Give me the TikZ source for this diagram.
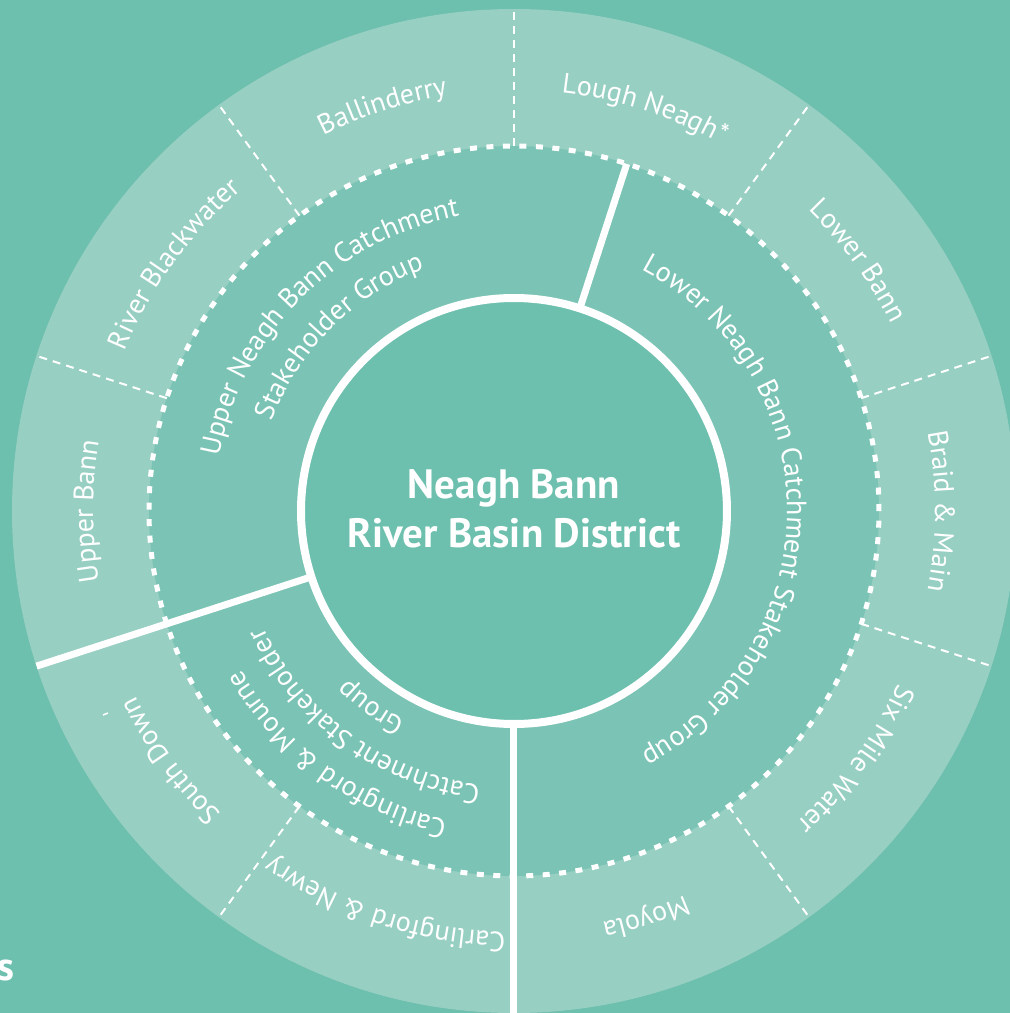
\documentclass[tikz,border=0pt]{standalone}
\usepackage{fontspec}
\setmainfont{PT Sans}
\usetikzlibrary{decorations.text}

\definecolor{field}{HTML}{6DBFAE}
\definecolor{outerband}{HTML}{97CFC2}
\definecolor{midband}{HTML}{7BC4B5}
\definecolor{hub}{HTML}{6DBFAE}

\tikzset{
  divider/.style={white, line width=2pt, dash pattern=on 8pt off 6pt},
  boundary/.style={white, line width=5pt, dash pattern=on 7pt off 9.5pt},
  spoke/.style={white, line width=7pt},
  hubring/.style={white, line width=8pt},
  title/.style={text=white, font=\bfseries\fontsize{41}{48}\selectfont, inner sep=0pt},
}

% text set clockwise along a circle: baseline radius, centre angle, half span, text
\newcommand\bandlabel[4]{%
  \path[decorate, decoration={text along path, text align=center, text color=white,
     text={|\fontsize{28}{33}\selectfont|#4}}]
     ({#2+#3}:#1pt) arc[start angle={#2+#3}, end angle={#2-#3}, radius=#1pt];
}

\begin{document}
\begin{tikzpicture}[x=1pt,y=1pt]
\useasboundingbox (-514,-502) rectangle (496,511);
\clip (-514,-502) rectangle (496,511);
\fill[field] (-514,-502) rectangle (496,511);

% bands
\fill[outerband] (0,0) circle[radius=502pt];
\fill[midband] (0,0) circle[radius=365pt];
\fill[hub] (0,0) circle[radius=213pt];

% thin dashed dividers in the outer band
\foreach \a in {18,54,90,126,162,234,306,342}
  \draw[divider] (\a:365) -- (\a:502);

% solid spokes between the catchment groups
\draw[spoke] (72:213) -- (72:365);
\draw[spoke] (198:213) -- (198:502);
\draw[spoke] (270:213) -- (270:506);

\draw[boundary] (0,0) circle[radius=365pt];
\draw[hubring] (0,0) circle[radius=213pt];

% centre title
\node[title, anchor=base] (t1) at (0,13) {Neagh Bann};
\node[title, anchor=base] (t2) at (0,-36) {River Basin District};

% outer band: local water bodies
\bandlabel{421}{0}{30}{Braid {\&} Main}
\bandlabel{421}{36}{30}{Lower Bann}
\bandlabel{421}{72}{30}{Lough Neagh*}
\bandlabel{421}{108}{30}{Ballinderry}
\bandlabel{421}{144}{30}{River Blackwater}
\bandlabel{421}{180}{30}{Upper Bann}
\bandlabel{421}{216}{30}{South Down}
\bandlabel{421}{252}{30}{Carlingford {\&} Newry}
\bandlabel{421}{288}{30}{Moyola}
\bandlabel{421}{324}{30}{Six Mile Water}

% middle band: stakeholder groups
\bandlabel{300}{135}{60}{Upper Neagh Bann Catchment}
\bandlabel{258}{135}{60}{Stakeholder Group}
\bandlabel{273}{0}{80}{Lower Neagh Bann Catchment Stakeholder Group}
\bandlabel{316}{234}{36}{Carlingford {\&} Mourne}
\bandlabel{276}{234}{36}{Catchment Stakeholder}
\bandlabel{236}{234}{36}{Group}

% small marks near the lower left
\draw[white, line width=1.5pt] (-411,-204) -- (-406,-202);
\node[anchor=base east, inner sep=0pt, text=white, font=\bfseries\fontsize{40}{48}\selectfont] (cut) at (-499,-469) {s};
\end{tikzpicture}
\end{document}
